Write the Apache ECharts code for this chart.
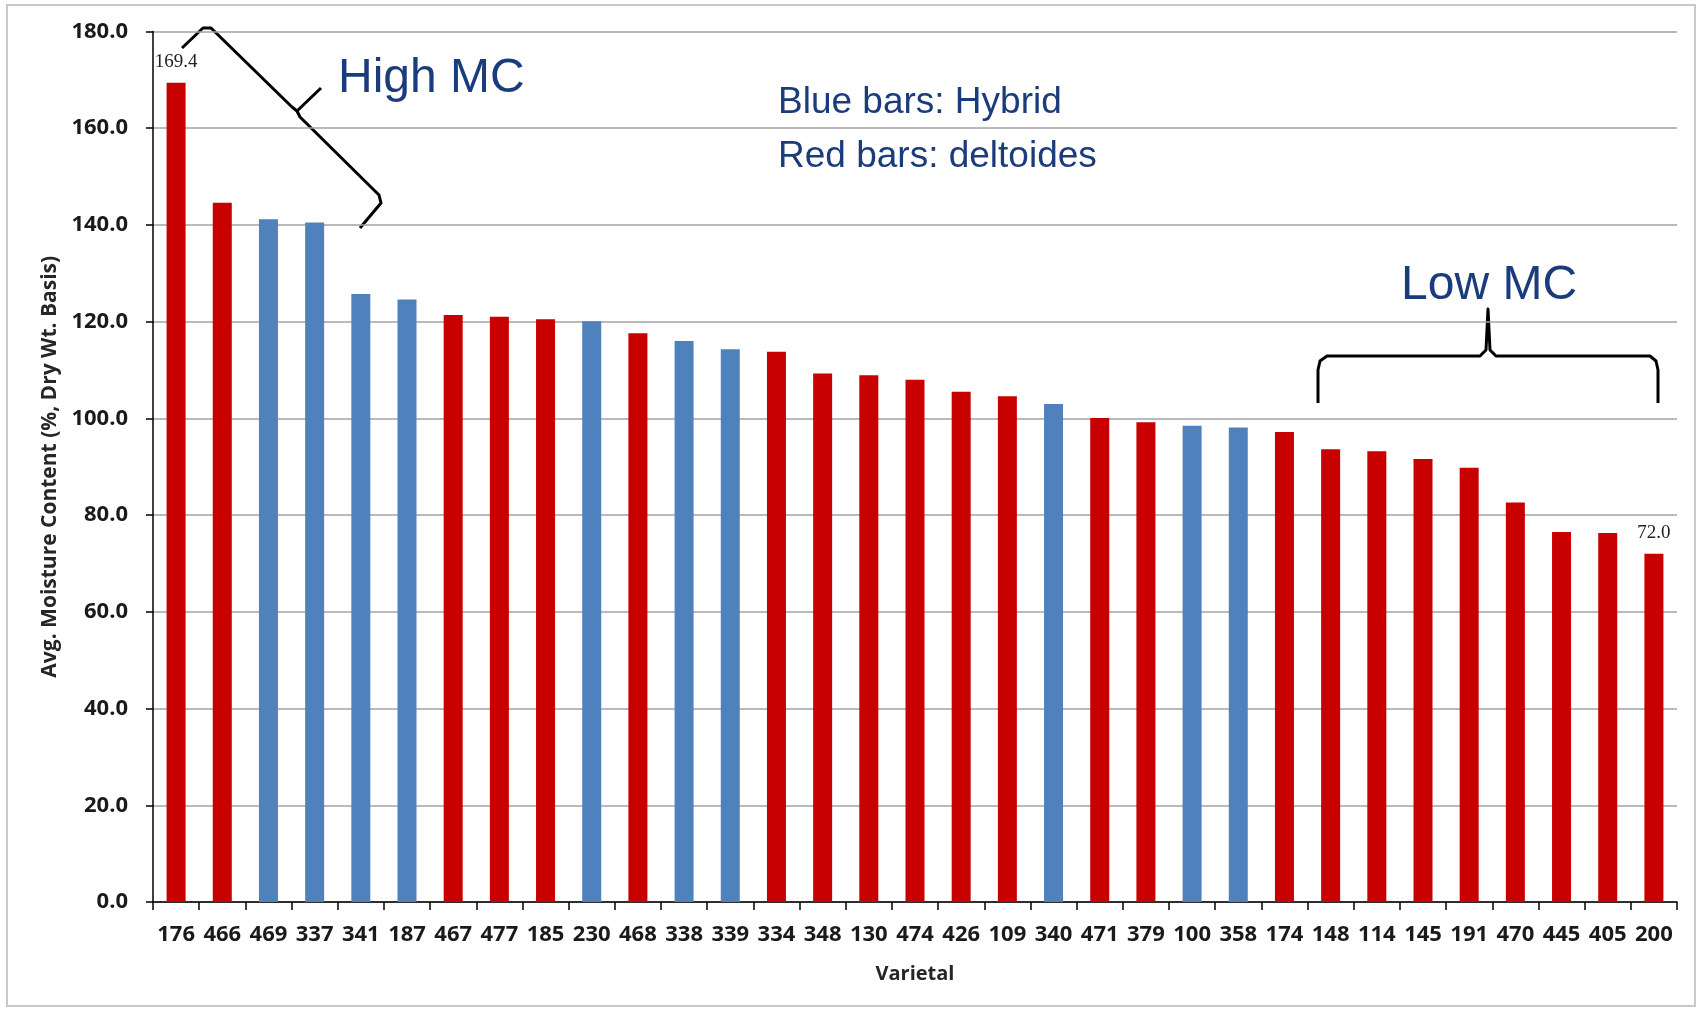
<!DOCTYPE html>
<html>
<head>
<meta charset="utf-8">
<title>Avg. Moisture Content by Varietal</title>
<script src="https://cdn.jsdelivr.net/npm/echarts@6/dist/echarts.min.js"></script>
<style>
  html, body { margin: 0; padding: 0; background: #fff; }
  #chart { width: 1702px; height: 1010px; }
</style>
</head>
<body>
<div id="chart"></div>
<script>
// varietals, sorted by moisture content
const varietals = ['176', '466', '469', '337', '341', '187', '467', '477', '185', '230', '468',
  '338', '339', '334', '348', '130', '474', '426', '109', '340', '471', '379', '100', '358',
  '174', '148', '114', '145', '191', '470', '445', '405', '200']
const moisture = [169.4, 144.6, 141.2, 140.5, 125.7, 124.6, 121.4, 121.0, 120.5, 120.1, 117.6,
  116.0, 114.3, 113.8, 109.3, 108.9, 108.0, 105.5, 104.6, 103.0, 100.1, 99.2, 98.5, 98.1,
  97.2, 93.6, 93.2, 91.6, 89.8, 82.6, 76.5, 76.3, 72.0]
// blue bars = hybrid, everything else is deltoides (red)
const hybrids = ['469', '337', '341', '187', '230', '338', '339', '340', '100', '358']
const labelled = ['176', '200']
const yTicks = [0, 20, 40, 60, 80, 100, 120, 140, 160, 180]

const BLUE = '#4f81bd'
const RED = '#c80000'
const NAVY = '#1b3c7c'
const axisFont = '"Open Sans", "DejaVu Sans", sans-serif'
const noteFont = '"Liberation Sans", Arial, sans-serif'

const chart = echarts.init(document.getElementById('chart'))

const barData = moisture.map((v, i) => ({
  value: v,
  itemStyle: { color: hybrids.includes(varietals[i]) ? BLUE : RED },
  label: { show: labelled.includes(varietals[i]) }
}))

const braceStyle = { stroke: '#000', lineWidth: 3, fill: null, lineJoin: 'round' }

chart.setOption({
  animation: false,
  backgroundColor: '#fff',
  grid: {
    left: 153,
    right: 25,
    top: 31.5,
    bottom: 108
  },
  xAxis: {
    type: 'category',
    data: varietals,
    name: 'Varietal',
    nameLocation: 'middle',
    nameGap: 62,
    nameTextStyle: { fontFamily: axisFont, fontWeight: 'bold', fontSize: 20, color: '#262626' },
    axisLine: { lineStyle: { color: '#000', width: 1.5 } },
    axisTick: { show: true, length: 8, lineStyle: { color: '#000', width: 1.5 } },
    axisLabel: { fontFamily: axisFont, fontWeight: 'bold', fontSize: 22, color: '#1a1a1a', margin: 22, interval: 0 }
  },
  yAxis: {
    type: 'value',
    min: yTicks[0],
    max: yTicks[yTicks.length - 1],
    interval: 20,
    name: 'Avg. Moisture Content (%, Dry Wt. Basis)',
    nameLocation: 'middle',
    nameGap: 92,
    nameTextStyle: { fontFamily: axisFont, fontWeight: 'bold', fontSize: 21, color: '#262626' },
    axisLine: { show: true, lineStyle: { color: '#000', width: 1.5 } },
    axisTick: { show: true, length: 7, lineStyle: { color: '#000', width: 1.5 } },
    axisLabel: {
      fontFamily: axisFont, fontWeight: 'bold', fontSize: 22, color: '#1a1a1a', margin: 25,
      formatter: v => v.toFixed(1)
    },
    splitLine: { lineStyle: { color: '#a3a3a3', width: 1.5 } }
  },
  series: [{
    type: 'bar',
    data: barData,
    barWidth: 19,
    label: {
      position: 'top',
      distance: 11,
      fontFamily: '"Liberation Serif", "DejaVu Serif", serif',
      fontSize: 19,
      color: '#222',
      formatter: p => p.value.toFixed(1)
    }
  }],
  graphic: [
    // frame round the picture
    { type: 'rect', shape: { x: 7, y: 5, width: 1688, height: 1001 }, style: { stroke: '#c8c8c8', lineWidth: 2, fill: null }, z: -1 },
    // notes
    { type: 'text', left: 338, top: 55, style: { text: 'High MC', fontFamily: noteFont, fontSize: 48, fill: NAVY } },
    { type: 'text', left: 1401, top: 262, style: { text: 'Low MC', fontFamily: noteFont, fontSize: 48, fill: NAVY } },
    { type: 'text', left: 778, top: 84, style: { text: 'Blue bars: Hybrid', fontFamily: noteFont, fontSize: 37, fill: NAVY } },
    { type: 'text', left: 778, top: 138, style: { text: 'Red bars: deltoides', fontFamily: noteFont, fontSize: 37, fill: NAVY } },
    // high MC brace
    { type: 'polyline', shape: { points: [[182, 48], [203, 28], [211, 28], [292, 107], [297, 111], [321, 88]] }, style: braceStyle },
    { type: 'polyline', shape: { points: [[297, 111], [300, 117], [379, 195], [381, 203], [360, 228]] }, style: braceStyle },
    // low MC brace
    { type: 'polyline', shape: { points: [[1318, 403], [1318, 370], [1320, 361], [1327, 356], [1480, 356], [1486, 350], [1488, 309], [1490, 350], [1496, 356], [1650, 356], [1656, 361], [1658, 370], [1658, 403]] }, style: braceStyle }
  ]
})
</script>
</body>
</html>
